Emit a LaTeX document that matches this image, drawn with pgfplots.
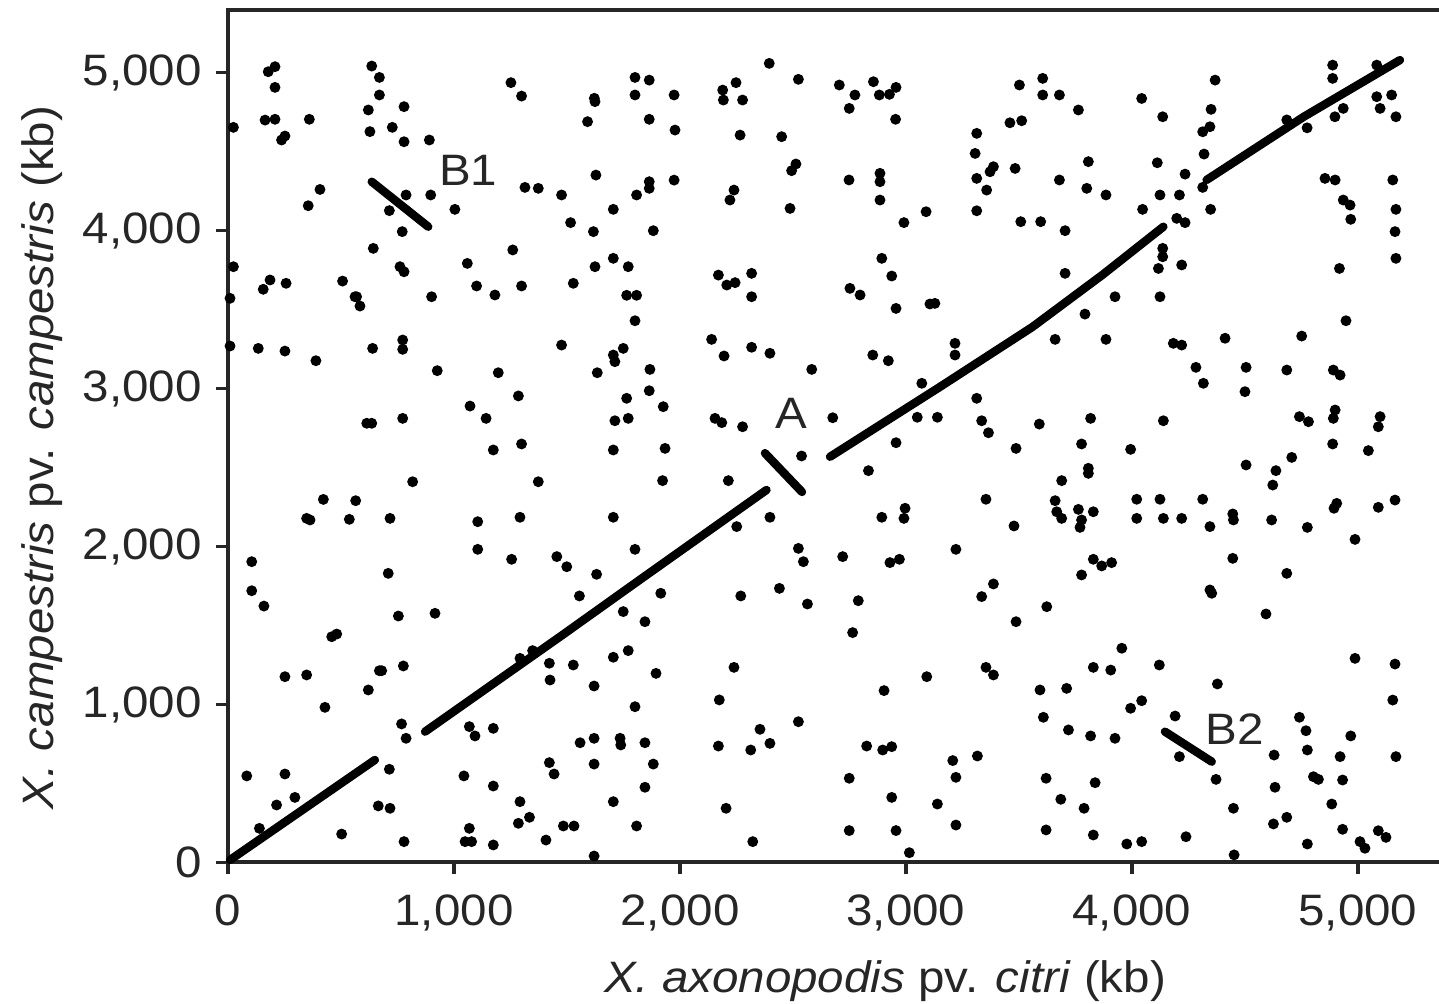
\documentclass[border=0pt]{standalone}
\usepackage{pgfplots}
\pgfplotsset{compat=1.18}
\usepackage{fontspec}
\setmainfont{Liberation Sans}[FakeStretch=1.08]
\begin{document}
\begin{tikzpicture}
\begin{axis}[
  at={(0,0)}, anchor=south west,
  scale only axis,
  width=306pt, height=213.125pt,
  xmin=0, xmax=5416, ymin=0, ymax=5396,
  axis line style={line width=1pt, black!85},
  xtick={0,1000,...,5000}, ytick={0,1000,...,5000},
  tick pos=left,
  tick align=outside, major tick length=3pt,
  tick style={line width=0.8pt, black!85},
  scaled ticks=false,
  /pgf/number format/assume math mode=true,
  /pgf/number format/1000 sep={,},
  tick label style={font=\fontsize{11}{13}\selectfont, text=black!85},
  xticklabel style={yshift=-1.5pt},
  clip=false,
]
% scattered matches
\addplot[only marks, mark=*, mark size=1.15pt, black] coordinates {
(178,5005)(208,5037)(208,4906)(164,4699)(208,4704)(24,4653)(360,4704)(237,4573)(252,4598)(636,5041)(670,4969)(670,4858)(621,4763)(779,4784)(628,4626)(727,4653)(779,4562)(891,4573)(1252,4936)(1299,4851)(1621,4837)(1624,4816)(1591,4689)(1801,4969)(1801,4858)(407,4260)(355,4157)(788,4225)(897,4225)(714,4126)(1004,4134)(771,3993)(643,3887)(1314,4273)(1373,4267)(1628,4351)(1476,4225)(1705,4134)(1516,4050)(1617,3993)(1808,4225)(1260,3877)(24,3771)(1059,3792)(761,3771)(779,3739)(1624,3771)(1705,3824)(1771,3771)(186,3687)(156,3628)(257,3666)(507,3680)(1100,3649)(1299,3649)(1528,3666)(1181,3592)(569,3581)(901,3581)(1764,3590)(1808,3590)
(1864,4952)(1974,4858)(1864,4704)(1978,4636)(2395,5058)(2248,4936)(2189,4889)(2192,4826)(2277,4826)(2524,4957)(2266,4604)(2450,4594)(2705,4921)(2774,4858)(2749,4773)(2856,4942)(2882,4858)(2927,4862)(2956,4906)(2954,4704)(3502,4921)(3460,4682)(3512,4695)(3313,4615)(3306,4488)(3387,4404)(3372,4372)(3483,4393)(3313,4330)(3357,4256)(3313,4125)(3508,4056)(1864,4309)(1864,4267)(1974,4319)(1882,3999)(2239,4256)(2221,4193)(2513,4421)(2494,4379)(2487,4140)(2748,4320)(2885,4362)(2885,4309)(2885,4193)(3089,4119)(2991,4050)(2893,3824)(2937,3712)(2170,3718)(2207,3655)(2244,3670)(2317,3729)(2317,3581)(2752,3634)(2797,3592)
(3605,4963)(3605,4858)(3679,4858)(3763,4763)(4043,4836)(4136,4720)(4368,4952)(4350,4767)(4313,4625)(4345,4657)(4319,4484)(4888,5047)(4888,4963)(5083,5047)(5083,4847)(5098,4773)(5149,4858)(5168,4720)(4898,4720)(4935,4773)(4685,4700)(4775,4650)(3807,4436)(3679,4320)(3800,4267)(3885,4225)(4112,4429)(4235,4357)(4124,4225)(4210,4225)(4047,4134)(4313,4273)(4348,4134)(4198,4077)(4235,4050)(3596,4056)(3704,3999)(4854,4330)(4899,4320)(4935,4193)(4965,4161)(4968,4071)(5154,4320)(5168,4134)(5164,3993)(5168,3824)(4918,3760)(4136,3887)(4136,3834)(4117,3760)(4220,3782)(3704,3729)(3925,3581)(4124,3581)
(9,3571)(562,3581)(584,3522)(1801,3429)(9,3269)(134,3254)(252,3237)(389,3176)(640,3254)(773,3307)(773,3248)(926,3113)(1196,3100)(1476,3275)(1634,3100)(1705,3212)(1712,3170)(1749,3254)(1285,2953)(1071,2889)(1142,2811)(614,2780)(636,2780)(773,2811)(1764,2938)(1712,2796)(1771,2811)(1299,2649)(1174,2611)(1705,2611)(817,2410)(1373,2410)(422,2298)(565,2290)(348,2178)(363,2168)(537,2172)(717,2178)(1105,2157)(1292,2185)(1705,2185)(1105,1982)(1255,1919)(1455,1936)(1499,1872)(1801,1982)(709,1830)(1631,1824)(105,1904)
(2956,3507)(3106,3535)(3128,3539)(2140,3311)(2195,3206)(2317,3261)(2398,3223)(2583,3121)(2853,3212)(2922,3176)(3217,3286)(3217,3212)(3070,3033)(1867,3121)(1864,2986)(1926,2885)(2155,2811)(2185,2784)(2277,2758)(2676,2815)(3050,2818)(3139,2818)(3313,2938)(3335,2796)(3365,2720)(3487,2621)(1934,2621)(1923,2417)(2214,2417)(2538,2573)(2956,2657)(2834,2480)(3354,2299)(2398,2185)(2251,2126)(2893,2185)(2996,2242)(2991,2178)(3478,2130)(2524,1988)(2546,1904)(2720,1936)(2929,1898)(2971,1919)(3221,1982)
(3792,3471)(3660,3311)(3885,3311)(4183,3286)(4220,3275)(4412,3318)(4751,3332)(4947,3429)(4283,3134)(4316,3033)(4505,3134)(4500,2980)(4685,3117)(4891,3117)(4921,3085)(3590,2775)(3817,2811)(4139,2796)(4741,2822)(4781,2790)(4899,2864)(4891,2811)(5098,2822)(5090,2758)(3777,2649)(3994,2615)(4888,2649)(5046,2607)(3807,2495)(3807,2463)(3689,2417)(4505,2516)(4637,2480)(4623,2389)(4707,2564)(3660,2290)(3667,2220)(3689,2178)(3763,2235)(3777,2168)(3829,2220)(3770,2121)(4021,2299)(4021,2178)(4124,2299)(4139,2178)(4220,2178)(4313,2299)(4345,2126)(4446,2206)(4449,2168)(4618,2168)(4776,2121)(4906,2273)(4894,2242)(5090,2248)(5164,2294)(4987,2045)(3829,1919)(3866,1877)(3910,1898)(3777,1820)(4446,1925)(4685,1830)
(105,1720)(159,1623)(754,1560)(916,1577)(459,1429)(481,1446)(252,1176)(348,1187)(670,1214)(680,1214)(776,1244)(621,1092)(429,982)(768,877)(788,786)(1555,1687)(1749,1588)(1292,1292)(1348,1341)(1422,1261)(1425,1155)(1528,1250)(1705,1299)(1771,1341)(1620,1117)(1801,986)(1068,860)(1093,801)(1174,849)(1558,758)(1620,786)(1735,786)(1738,744)(1422,632)(1443,560)(1620,623)(83,548)(252,560)(296,412)(215,364)(139,216)(714,590)(665,358)(717,343)(503,180)(779,132)(1044,548)(1174,484)(1292,385)(1285,248)(1334,286)(1068,216)(1049,132)(1078,132)(1174,111)(1407,142)(1484,231)(1531,231)(1705,385)(1808,231)(1620,41)
(1915,1704)(2269,1687)(2440,1735)(2564,1636)(2789,1657)(2764,1455)(3387,1763)(3335,1683)(3487,1524)(1845,1524)(1894,1197)(2239,1235)(3092,1176)(3354,1235)(3387,1187)(2903,1088)(2174,1029)(2524,891)(2354,843)(2398,754)(2170,737)(2313,712)(1845,758)(1882,623)(1845,476)(2826,737)(2897,712)(2937,733)(3207,645)(3316,674)(2749,533)(3221,539)(2937,412)(3139,370)(2204,343)(2322,132)(2749,202)(2956,202)(3221,237)(3015,62)
(3623,1619)(4345,1725)(4353,1704)(4593,1573)(3955,1356)(3829,1235)(3906,1218)(4121,1250)(3593,1092)(3711,1102)(4378,1130)(3994,976)(4043,1024)(3608,919)(3719,839)(3817,801)(3925,786)(4191,927)(4210,670)(4372,526)(3620,533)(3837,505)(3685,400)(3788,343)(3620,206)(3829,174)(3977,117)(4043,132)(4239,163)(4449,343)(4452,48)(4629,680)(4633,476)(4626,244)(4685,286)(4741,919)(4770,834)(4776,712)(4803,543)(4825,526)(4884,370)(4921,670)(4932,522)(4932,210)(4968,801)(4776,117)(4987,1292)(5164,1256)(5154,1028)(5168,670)(5009,132)(5031,90)(5090,201)(5124,159)
};
% collinear blocks
\addplot[black, line width=2.1pt, line cap=round, line join=round, mark=none] coordinates {(9,16)(650,649)};
\addplot[black, line width=2.1pt, line cap=round, line join=round, mark=none] coordinates {(872,828)(1480,1440)(1823,1790)(2383,2358)};
\addplot[black, line width=2.1pt, line cap=round, line join=round, mark=none] coordinates {(2376,2591)(2540,2345)};
\addplot[black, line width=2.1pt, line cap=round, line join=round, mark=none] coordinates {(2664,2568)(3150,3010)(3560,3390)(3870,3720)(4139,4024)};
\addplot[black, line width=2.1pt, line cap=round, line join=round, mark=none] coordinates {(4330,4320)(4760,4720)(5186,5079)};
\addplot[black, line width=2.1pt, line cap=round, line join=round, mark=none] coordinates {(636,4309)(886,4024)};
\addplot[black, line width=2.1pt, line cap=round, line join=round, mark=none] coordinates {(4146,828)(4353,638)};
% annotations
\node[anchor=base west, font=\fontsize{11}{13}\selectfont, text=black!85, inner sep=0pt] at (axis cs:931,4288) {B1};
\node[anchor=base west, font=\fontsize{11}{13}\selectfont, text=black!85, inner sep=0pt] at (axis cs:2420,2748) {A};
\node[anchor=base west, font=\fontsize{11}{13}\selectfont, text=black!85, inner sep=0pt] at (axis cs:4323,744) {B2};
% axis labels
\node[anchor=base, font=\fontsize{11}{13}\selectfont, text=black!85, inner sep=0pt] at ([yshift=-32.6pt]axis cs:2907,0) {\textit{X. axonopodis} pv. \textit{citri} (kb)};
\node[anchor=base, rotate=90, font=\fontsize{11}{13}\selectfont, text=black!85, inner sep=0pt] at ([xshift=-43.5pt]axis cs:0,2563) {\textit{X. campestris} pv. \textit{campestris} (kb)};
\end{axis}
\pgfresetboundingbox
\useasboundingbox (-57pt,-35.375pt) rectangle (302.75pt,215.625pt);
\end{tikzpicture}
\end{document}
